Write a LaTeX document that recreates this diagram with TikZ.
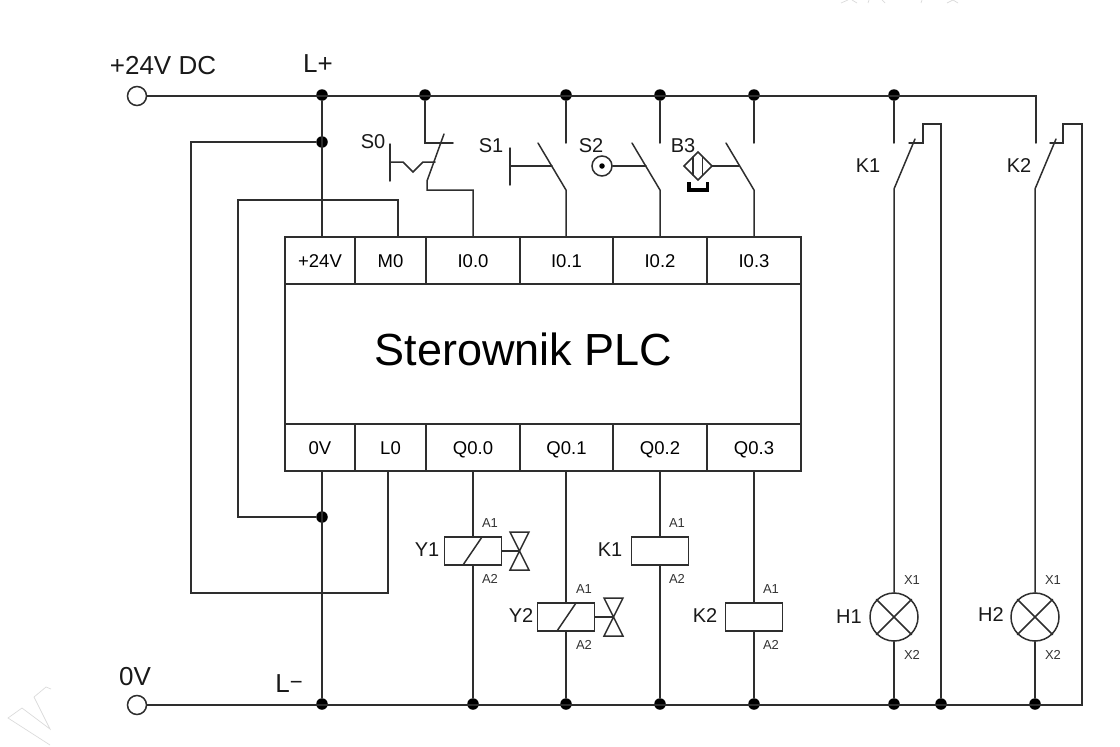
\documentclass[tikz,border=0pt]{standalone}
\usepackage{fontspec}
\setmainfont{Liberation Sans}
\usetikzlibrary{calc}
\definecolor{wire}{HTML}{2E2E2E}
\newcommand{\fsz}[1]{\fontsize{#1}{#1}\selectfont}
\tikzset{
  wireline/.style={draw=wire,line width=1.5pt,line cap=round,line join=miter},
  blackdot/.style={circle,fill=black,draw=none,minimum size=11.5pt,inner sep=0pt},
  term/.style={circle,draw=wire,line width=1.5pt,fill=white,minimum size=19pt,inner sep=0pt},
  cell/.style={draw=wire,line width=1.5pt,minimum height=47pt,inner sep=0pt,font=\fsz{18.5},text height=13pt,text depth=0pt},
  midbox/.style={draw=wire,line width=1.5pt,minimum height=140pt,minimum width=516pt,inner sep=0pt},
  coil/.style={draw=wire,line width=1.5pt,minimum width=57pt,minimum height=28pt,inner sep=0pt},
  lampc/.style={circle,draw=wire,line width=1.5pt,minimum size=48pt,inner sep=0pt},
  big/.style={inner sep=0pt,text=black!90,font=\fsz{26}},
  lab/.style={inner sep=0pt,text=black!90,font=\fsz{20}},
  small/.style={inner sep=0pt,text=black!80,font=\fsz{13}},
  wm/.style={draw=black!14,line width=0.7pt}
}
\begin{document}
\begin{tikzpicture}[x=1pt,y=-1pt]
\useasboundingbox (0,0) rectangle (1120,747);
% faint marks
\draw[wm] (51,689)--(46,687)--(34,697)--(50,729)--(22,708)--(8,718)--(50,745);
\draw[wm] (841,3)--(848,0) (857,3)--(852,0) (868,3)--(869,0) (885,3)--(882,0) (921,3)--(922,0) (947,3)--(953,0)--(958,3);
% PLC body
\node[cell,minimum width=70pt] (t24) at (320,260.5) {+24V};
\node[cell,minimum width=71pt] (tM) at (390.5,260.5) {M0};
\node[cell,minimum width=94pt] (tI0) at (473,260.5) {I0.0};
\node[cell,minimum width=93pt] (tI1) at (566.5,260.5) {I0.1};
\node[cell,minimum width=94pt] (tI2) at (660,260.5) {I0.2};
\node[cell,minimum width=94pt] (tI3) at (754,260.5) {I0.3};
\node[midbox] (plc) at (543,354) {};
\node[inner sep=0pt,text=black,font=\fsz{45}] (plctext) at (523.5,349) {Sterownik PLC};
\node[cell,minimum width=70pt] (t0V) at (320,447.5) {0V};
\node[cell,minimum width=71pt] (tL) at (390.5,447.5) {L0};
\node[cell,minimum width=94pt] (tQ0) at (473,447.5) {Q0.0};
\node[cell,minimum width=93pt] (tQ1) at (566.5,447.5) {Q0.1};
\node[cell,minimum width=94pt] (tQ2) at (660,447.5) {Q0.2};
\node[cell,minimum width=94pt] (tQ3) at (754,447.5) {Q0.3};
% rails
\node[term] (tp) at (137,96) {};
\node[term] (tn) at (137,705) {};
\node[blackdot] (a1) at (322,95) {};
\node[blackdot] (a2) at (425,95) {};
\node[blackdot] (a3) at (566,95) {};
\node[blackdot] (a4) at (660,95) {};
\node[blackdot] (a5) at (754,95) {};
\node[blackdot] (a6) at (894,95) {};
\node[blackdot] (m1) at (322,142) {};
\node[blackdot] (m2) at (322,517) {};
\node[blackdot] (b1) at (322,704) {};
\node[blackdot] (b2) at (473,704) {};
\node[blackdot] (b3) at (566,704) {};
\node[blackdot] (b4) at (660,704) {};
\node[blackdot] (b5) at (754,704) {};
\node[blackdot] (b6) at (894,704) {};
\node[blackdot] (b7) at (941,704) {};
\node[blackdot] (b8) at (1035,704) {};
\coordinate (railend) at (1036,96);
\coordinate (nend) at (1082,705);
\draw[wireline] (tp.east) -- (railend) -- (1036,143);
\draw[wireline] (tn.east) -- (nend) -- (1082,124) -- (1063,124) -- (1063,143) -- (1050,143);
% feeds
\draw[wireline] (a1) -- (a1 |- t24.north);
\draw[wireline] (m1) -- (191,142) -- (191,593) -- (388,593) -- (388,471);
\draw[wireline] (398,237) -- (398,200) -- (238,200) -- (238,517) -- (m2);
\draw[wireline] (b1 |- t0V.south) -- (b1);
% S0
\draw[wireline] (a2) -- (425,143) -- (453,143);
\draw[wireline] (444,134) -- (427,181) -- (427,190) -- (473,190) -- (tI0.north);
\draw[wireline] (390,144) -- (390,181);
\draw[wireline] (390,162) -- (403,162) -- (413,172) -- (423,162) -- (435,162);
% S1
\draw[wireline] (a3) -- (566,143);
\draw[wireline] (510,148) -- (510,185);
\draw[wireline] (510,166) -- (552,166);
\draw[wireline] (538,143) -- (566,190) -- (566,237);
% S2
\draw[wireline] (a4) -- (660,143);
\node[circle,draw=wire,line width=1.5pt,minimum size=20pt,inner sep=0pt] (s2c) at (602,166) {};
\node[circle,fill=black,minimum size=5.5pt,inner sep=0pt] (s2d) at (602,166) {};
\draw[wireline] (s2c.east) -- (646,166);
\draw[wireline] (632,143) -- (660,190) -- (tI2.north);
% B3
\draw[wireline] (a5) -- (754,143);
\draw[wireline] (698,152) -- (712,166) -- (698,180) -- (684,166) -- cycle;
\draw[wireline] (693,157) -- (693,175) (702.5,157) -- (702.5,175);
\draw[wireline] (712,166) -- (739,166);
\draw[wireline] (726,143) -- (754,190) -- (tI3.north);
\draw[draw=black,line width=3.6pt,line cap=butt,line join=miter] (688.8,182) -- (688.8,190.2) -- (707.6,190.2) -- (707.6,182);
% Coils
\node[coil] (y1) at (473,551) {};
\node[coil] (y2) at (566,617) {};
\node[coil] (k1) at (660,551) {};
\node[coil] (k2) at (754,617) {};
\draw[wireline] (463,565) -- (482,537);
\draw[wireline] (557,631) -- (576,603);
\draw[wireline] (tQ0.south) -- (y1.north);
\draw[wireline] (y1.south) -- (b2);
\draw[wireline] (tQ1.south -| y2.north) -- (y2.north);
\draw[wireline] (y2.south) -- (b3);
\draw[wireline] (tQ2.south) -- (k1.north);
\draw[wireline] (k1.south) -- (b4);
\draw[wireline] (tQ3.south) -- (k2.north);
\draw[wireline] (k2.south) -- (b5);
% Valves
\coordinate (v1) at (519.5,551);
\coordinate (v2) at (613.5,617);
\draw[wireline] (y1.east) -- (v1);
\draw[wireline] (v1) -- (510,532) -- (529,532) -- (510,570) -- (529,570) -- cycle;
\draw[wireline] (y2.east) -- (v2);
\draw[wireline] (v2) -- (604,598) -- (623,598) -- (604,636) -- (623,636) -- cycle;
% Lamps
\node[lampc] (h1) at (894,617) {};
\node[lampc] (h2) at (1035,617) {};
\draw[wireline] (h1.45) -- (h1.225) (h1.135) -- (h1.315);
\draw[wireline] (h2.45) -- (h2.225) (h2.135) -- (h2.315);
% K1 K2 contacts
\draw[wireline] (a6) -- (894,143);
\draw[wireline] (915,139) -- (894,189) -- (h1.north);
\draw[wireline] (h1.south) -- (b6);
\draw[wireline] (909,143) -- (923,143) -- (923,124) -- (941,124) -- (b7);
\draw[wireline] (1056,139) -- (1035,189) -- (h2.north);
\draw[wireline] (h2.south) -- (b8);
% Labels
\node[big] (l1) at (163,66) {+24V DC};
\node[big] (l2) at (318,64) {L+};
\node[big] (l3) at (135,677) {0V};
\node[big] (l4) at (289,684) {L\raisebox{3pt}{\fsz{22}−}};
\node[lab] (n1) at (373,142) {S0};
\node[lab] (n2) at (491,146) {S1};
\node[lab] (n3) at (591,146) {S2};
\node[lab] (n4) at (683,146) {B3};
\node[lab] (n5) at (868,166) {K1};
\node[lab] (n6) at (1019,166) {K2};
\node[lab] (n7) at (427,550) {Y1};
\node[lab] (n8) at (521,616) {Y2};
\node[lab] (n9) at (610,550) {K1};
\node[lab] (n10) at (705,616) {K2};
\node[lab] (n11) at (849,617) {H1};
\node[lab] (n12) at (991,615) {H2};
\node[small] (s1) at (490,523) {A1};
\node[small] (s2) at (490,579) {A2};
\node[small] (s3) at (584,589) {A1};
\node[small] (s4) at (584,645) {A2};
\node[small] (s5) at (677,523) {A1};
\node[small] (s6) at (677,579) {A2};
\node[small] (s7) at (771,589) {A1};
\node[small] (s8) at (771,645) {A2};
\node[small] (s9) at (912,580) {X1};
\node[small] (s10) at (912,655) {X2};
\node[small] (s11) at (1053,580) {X1};
\node[small] (s12) at (1053,655) {X2};
\end{tikzpicture}
\end{document}
